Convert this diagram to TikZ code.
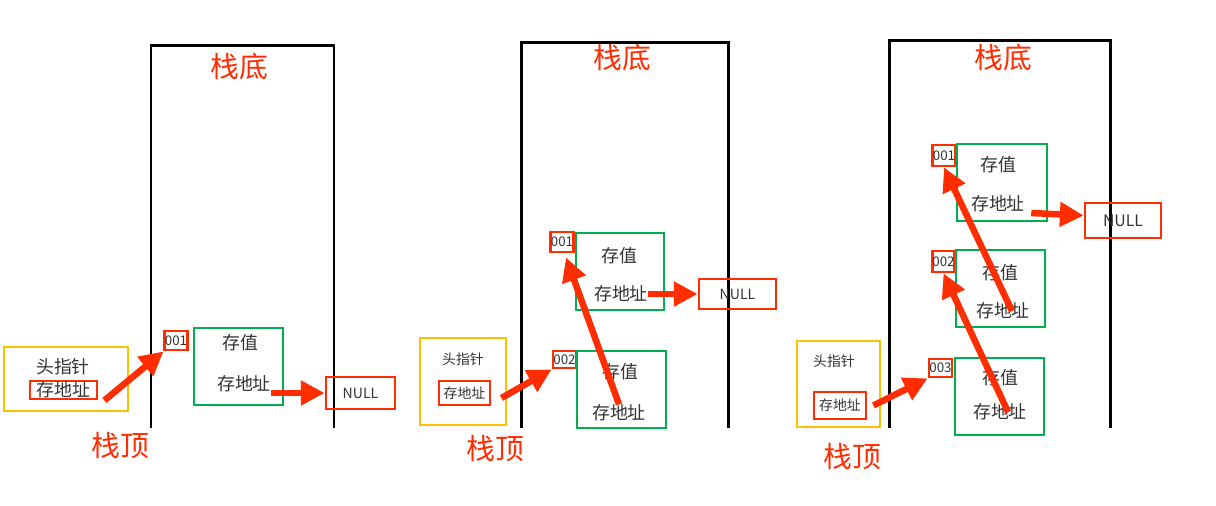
\documentclass[tikz,border=0pt]{standalone}
\usepackage{fontspec}
\setmainfont{Noto Sans CJK SC}
\usetikzlibrary{positioning,arrows.meta}
\definecolor{ptrred}{HTML}{FF2D00}
\definecolor{headyellow}{HTML}{FFC000}
\definecolor{nodegreen}{HTML}{00B050}
\definecolor{ink}{HTML}{333333}
\newdimen\px \px=0.02cm

\tikzset{
  wall/.style={line width=1.7pt, black},
  redbox/.style={draw=ptrred, line width=1.6pt, inner sep=0pt},
  greenbox/.style={draw=nodegreen, line width=1.6pt, minimum width=89\px, minimum height=77\px},
  yellowbox/.style={draw=headyellow, line width=1.6pt},
  ptr/.style={draw=ptrred, line width=3.7pt, -{Triangle[length=13.5pt,width=13.5pt]}},
  endtext/.style={text=ptrred, font=\fontsize{16.4}{18}\selectfont, inner sep=0pt},
  txt/.style={text=ink, font=\fontsize{10.2}{12}\selectfont, inner sep=0pt},
  tiny/.style={text=ink, font=\fontsize{7.9}{9}\selectfont, inner sep=0pt},
  digits/.style={text=ink, font=\fontsize{7.6}{9}\selectfont},
}

\begin{document}
\begin{tikzpicture}[x=0.02cm,y=-0.02cm]
\useasboundingbox (0,0) rectangle (1216,505);
\fill[white] (0,0) rectangle (1216,505);

% first push
\draw[wall] (151,428) |- (334,45) -- (334,428);
\node[endtext] (bot1) at (239,67) {栈底};
\node[endtext] (top1) at (120,446) {栈顶};
\node[yellowbox, minimum width=124\px, minimum height=64\px] (head1) at (66,379) {};
\node[txt] (hname1) at (63,367) {头指针};
\node[redbox, txt, minimum width=67\px, minimum height=18\px] (hadr1) at (63.5,390) {存地址};
\node[redbox, digits, minimum width=22\px, minimum height=19\px] (a11) at (176,340.5) {001};
\node[greenbox] (n11) at (238.5,366.5) {};
\node[txt] (val11) at (240,343) {存值};
\node[txt] (adr11) at (244,384) {存地址};
\node[redbox, tiny, font=\fontsize{8}{9}\selectfont, minimum width=69\px, minimum height=32\px] (null1) at (360.5,393) {NULL};
\draw[ptr] ([xshift=6\px]hadr1.south east) -- (a11.south west);
\draw[ptr] (adr11.east |- null1.west) -- (null1.west);

% second push
\draw[wall] (521,428) |- (728,42) -- (728,428);
\node[endtext] (bot2) at (622,58) {栈底};
\node[endtext] (top2) at (495,449) {栈顶};
\node[yellowbox, minimum width=86\px, minimum height=87\px] (head2) at (463,381.5) {};
\node[tiny] (hname2) at (463,359) {头指针};
\node[redbox, tiny, minimum width=51\px, minimum height=24\px] (hadr2) at (464.5,393) {存地址};
\node[redbox, digits, minimum width=23\px, minimum height=17\px] (a22) at (564.5,359.5) {002};
\node[greenbox] (n22) at (621.5,389.5) {};
\node[txt] (val22) at (620,372) {存值};
\node[txt] (adr22) at (619,413) {存地址};
\node[redbox, digits, minimum width=22\px, minimum height=20\px] (a21) at (562,242) {001};
\node[greenbox, minimum width=88\px] (n21) at (620,271.5) {};
\node[txt] (val21) at (619,256) {存值};
\node[txt] (adr21) at (621,294) {存地址};
\node[redbox, tiny, font=\fontsize{8}{9}\selectfont, minimum width=77\px, minimum height=30\px] (null2) at (737.5,294) {NULL};
\draw[ptr] ([shift={(10,5)}]hadr2.east) -- (a22.south west);
\draw[ptr] (adr22.north) -- ([xshift=4\px,yshift=-4\px]a21.south);
\draw[ptr] (adr21.east |- null2.west) -- (null2.west);

% third push
\draw[wall] (889,428) |- (1110,40) -- (1110,428);
\node[endtext] (bot3) at (1003,58) {栈底};
\node[endtext] (top3) at (852,457) {栈顶};
\node[yellowbox, minimum width=83\px, minimum height=86\px] (head3) at (838.5,384) {};
\node[tiny] (hname3) at (834,361) {头指针};
\node[redbox, tiny, minimum width=52\px, minimum height=27\px] (hadr3) at (840,405.5) {存地址};
\node[redbox, digits, minimum width=23\px, minimum height=18\px] (a33) at (940.5,368) {003};
\node[greenbox] (n33) at (999.5,396.5) {};
\node[txt] (val33) at (1000,378) {存值};
\node[txt] (adr33) at (1000,412) {存地址};
\node[redbox, digits, minimum width=21\px, minimum height=21\px] (a32) at (943.5,261.5) {002};
\node[greenbox] (n32) at (1000.5,288.5) {};
\node[txt] (val32) at (1000,273) {存值};
\node[txt] (adr32) at (1003,311) {存地址};
\node[redbox, digits, minimum width=22\px, minimum height=21\px] (a31) at (944,155.5) {001};
\node[greenbox, minimum width=90\px] (n31) at (1002,182.5) {};
\node[txt] (val31) at (998,165) {存值};
\node[txt] (adr31) at (998,204) {存地址};
\node[redbox, txt, font=\fontsize{9}{10}\selectfont, minimum width=76\px, minimum height=35\px] (null3) at (1123,220.5) {NULL};
\draw[ptr] ([xshift=6\px]hadr3.east) -- (a33.south west);
\draw[ptr] ([xshift=8\px]adr33.center) -- (a32.south);
\draw[ptr] ([xshift=9\px]adr32.center) -- (a31.south);
\draw[ptr] ([shift={(6,9)}]adr31.east) -- ([yshift=5\px]null3.west);
\end{tikzpicture}
\end{document}
